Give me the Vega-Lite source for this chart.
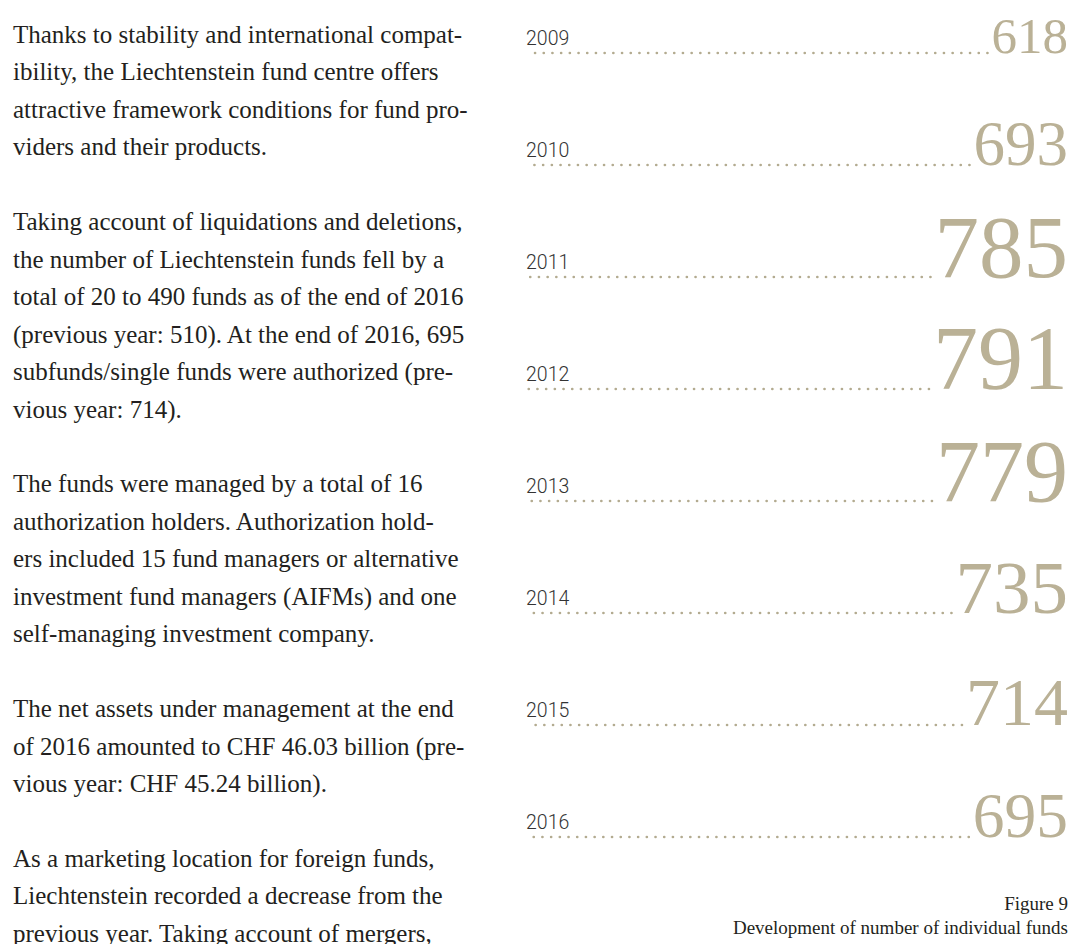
{
  "$schema": "https://vega.github.io/schema/vega-lite/v6.json",
  "width": 1076,
  "height": 944,
  "padding": 0,
  "autosize": {"type": "none"},
  "background": "white",
  "config": {"view": {"stroke": null}},
  "datasets": {
    "body": [
      {"line": 0, "text": "Thanks to stability and international compat-"},
      {"line": 1, "text": "ibility, the Liechtenstein fund centre offers"},
      {"line": 2, "text": "attractive framework conditions for fund pro-"},
      {"line": 3, "text": "viders and their products."},
      {"line": 5, "text": "Taking account of liquidations and deletions,"},
      {"line": 6, "text": "the number of Liechtenstein funds fell by a"},
      {"line": 7, "text": "total of 20 to 490 funds as of the end of 2016"},
      {"line": 8, "text": "(previous year: 510). At the end of 2016, 695"},
      {"line": 9, "text": "subfunds/single funds were authorized (pre-"},
      {"line": 10, "text": "vious year: 714)."},
      {"line": 12, "text": "The funds were managed by a total of 16"},
      {"line": 13, "text": "authorization holders. Authorization hold-"},
      {"line": 14, "text": "ers included 15 fund managers or alternative"},
      {"line": 15, "text": "investment fund managers (AIFMs) and one"},
      {"line": 16, "text": "self-managing investment company."},
      {"line": 18, "text": "The net assets under management at the end"},
      {"line": 19, "text": "of 2016 amounted to CHF 46.03 billion (pre-"},
      {"line": 20, "text": "vious year: CHF 45.24 billion)."},
      {"line": 22, "text": "As a marketing location for foreign funds,"},
      {"line": 23, "text": "Liechtenstein recorded a decrease from the"},
      {"line": 24, "text": "previous year. Taking account of mergers,"}
    ],
    "caption": [
      {"line": 0, "text": "Figure 9"},
      {"line": 1, "text": "Development of number of individual funds"}
    ],
    "funds": [
      {"year": "2009", "value": 618},
      {"year": "2010", "value": 693},
      {"year": "2011", "value": 785},
      {"year": "2012", "value": 791},
      {"year": "2013", "value": 779},
      {"year": "2014", "value": 735},
      {"year": "2015", "value": 714},
      {"year": "2016", "value": 695}
    ]
  },
  "layer": [
    {
      "data": {"name": "body"},
      "mark": {"type": "text", "align": "left", "baseline": "alphabetic", "font": "Liberation Serif", "fontSize": 25, "color": "#231f20"},
      "encoding": {
        "x": {"value": 13},
        "y": {"field": "line", "type": "quantitative", "scale": {"domain": [0, 24], "range": [43, 941.8], "nice": false, "zero": false}, "axis": null},
        "text": {"field": "text", "type": "nominal"}
      }
    },
    {
      "data": {"name": "caption"},
      "mark": {"type": "text", "align": "right", "baseline": "alphabetic", "font": "Liberation Serif", "fontSize": 19, "color": "#231f20"},
      "encoding": {
        "x": {"value": 1068},
        "y": {"field": "line", "type": "quantitative", "scale": {"domain": [0, 1], "range": [910, 934], "nice": false, "zero": false}, "axis": null},
        "text": {"field": "text", "type": "nominal"}
      }
    },
    {
      "data": {"name": "funds"},
      "encoding": {
        "y": {"field": "year", "type": "ordinal", "scale": {"type": "point", "range": [53, 837], "padding": 0}, "axis": null}
      },
      "layer": [
        {
          "mark": {"type": "rule", "strokeDash": [0.1, 8.6], "strokeCap": "round", "strokeWidth": 2.6, "color": "#b3ab90"},
          "encoding": {
            "x": {"field": "value", "type": "quantitative", "scale": {"domain": [618, 693, 714, 735, 779, 791], "range": [987.5, 969.5, 962, 951.5, 932, 929], "nice": false, "zero": false}, "axis": null},
            "x2": {"value": 527}
          }
        },
        {
          "mark": {"type": "text", "align": "left", "baseline": "alphabetic", "dy": -8, "font": "Roboto", "fontWeight": 300, "fontSize": 19.5, "color": "#333333"},
          "encoding": {
            "x": {"value": 526},
            "text": {"field": "year", "type": "nominal"}
          }
        },
        {
          "mark": {"type": "text", "align": "right", "baseline": "alphabetic", "font": "Liberation Serif", "color": "#bab196"},
          "encoding": {
            "x": {"value": 1068},
            "size": {"field": "value", "type": "quantitative", "scale": {"domain": [618, 693, 714, 735, 779, 791], "range": [51, 63, 68, 75, 88, 90], "nice": false, "zero": false}, "legend": null},
            "text": {"field": "value", "type": "nominal"}
          }
        }
      ]
    }
  ],
  "resolve": {"scale": {"y": "independent"}}
}
